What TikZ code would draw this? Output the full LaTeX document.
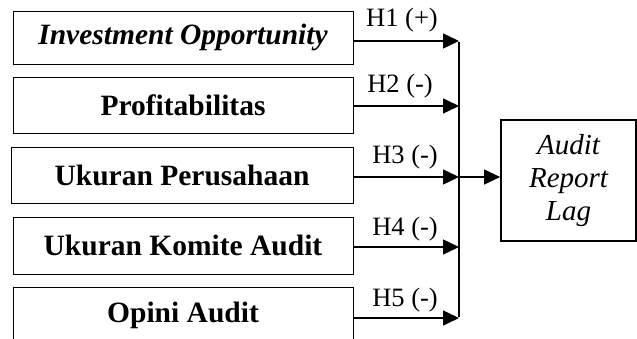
\documentclass[tikz,border=0pt]{standalone}
\usepackage{fontspec}
\setmainfont{Liberation Serif}
\usetikzlibrary{arrows.meta}
\begin{document}
\begin{tikzpicture}[x=1pt,y=-1pt,
  box/.style={draw, line width=0.9pt, minimum width=340pt, inner sep=0pt, font=\fontsize{29.5}{33}\selectfont\bfseries},
  outbox/.style={draw, line width=1.8pt, minimum width=135pt, minimum height=121pt, inner sep=0pt, align=center, font=\fontsize{29}{33}\selectfont\itshape},
  arr/.style={line width=1.4pt, -{Triangle[length=16pt,width=15pt]}},
  bus/.style={line width=1.4pt},
  hlab/.style={anchor=base, font=\fontsize{26.5}{28}\selectfont}]
\useasboundingbox (0,0) rectangle (637,339);
\clip (0,0) rectangle (637,339);
\node[box, minimum height=53pt] (b1) at (183,37.5) {\itshape Investment Opportunity};
\node[box, minimum height=56pt] (b2) at (183,105) {Profitabilitas};
\node[box, minimum height=56pt, minimum width=342pt] (b3) at (182,175) {Ukuran Perusahaan};
\node[box, minimum height=57pt] (b4) at (183,245.5) {Ukuran Komite Audit};
\node[box, minimum height=56pt] (b5) at (183,315) {Opini Audit};
\node[outbox] (out) at (568.5,180.5) {Audit\\Report\\Lag};
\coordinate (j1) at (459,41);
\coordinate (j2) at (459,106);
\coordinate (j3) at (459,177);
\coordinate (j4) at (459,247);
\coordinate (j5) at (459,318);
\draw[arr] (b1.east |- j1) -- (j1);
\draw[arr] (b2.east |- j2) -- (j2);
\draw[arr] (b3.east |- j3) -- (j3);
\draw[arr] (b4.east |- j4) -- (j4);
\draw[arr] (b5.east |- j5) -- (j5);
\draw[bus] ([yshift=-0.7pt]j1) -- ([yshift=0.7pt]j5);
\draw[arr] (j3) -- (j3 -| out.west);
\node[hlab] (l1) at (402,27) {H1 (+)};
\node[hlab] (l2) at (400,93) {H2 (-)};
\node[hlab] (l3) at (405,164) {H3 (-)};
\node[hlab] (l4) at (405,236) {H4 (-)};
\node[hlab] (l5) at (405,306) {H5 (-)};
\end{tikzpicture}
\end{document}
